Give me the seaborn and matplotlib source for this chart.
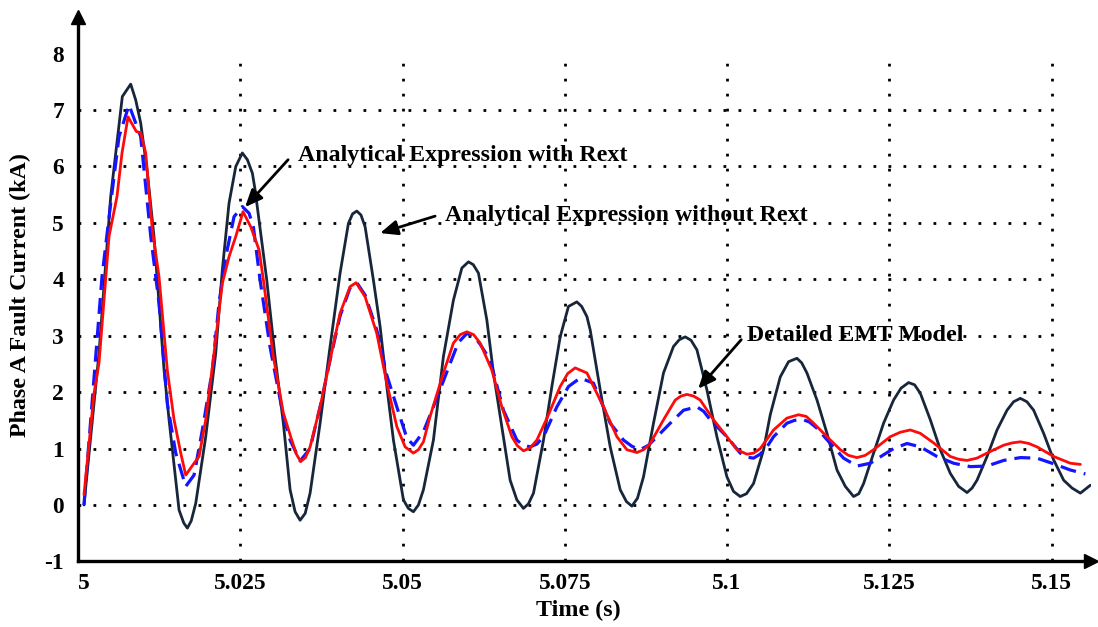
import matplotlib
matplotlib.use("Agg")
import matplotlib.pyplot as plt
import matplotlib.transforms as mtransforms
import seaborn as sns
import pandas as pd

sns.set_style("white")
plt.rcParams['font.family'] = ['Liberation Serif', 'DejaVu Serif']
plt.rcParams['font.weight'] = 'bold'
plt.rcParams['text.color'] = 'black'
plt.rcParams['axes.labelcolor'] = 'black'
plt.rcParams['xtick.color'] = 'black'
plt.rcParams['ytick.color'] = 'black'

# ---------------- data ----------------
t_no_rext = [5.00092, 5.00324, 5.00504, 5.00683, 5.00812, 5.00889, 5.00966, 5.01064, 5.01171, 5.01248,
             5.01326, 5.01403, 5.01506, 5.01557, 5.01630, 5.01685, 5.01745, 5.01814, 5.01968, 5.02122,
             5.02224, 5.02327, 5.02431, 5.02532, 5.02610, 5.02687, 5.02728, 5.02908, 5.03036, 5.03164,
             5.03268, 5.03345, 5.03422, 5.03500, 5.03576, 5.03730, 5.03884, 5.04038, 5.04166, 5.04230,
             5.04296, 5.04360, 5.04424, 5.04551, 5.04655, 5.04758, 5.04860, 5.05014, 5.05090, 5.05168,
             5.05245, 5.05322, 5.05476, 5.05630, 5.05784, 5.05914, 5.06016, 5.06090, 5.06170, 5.06299,
             5.06401, 5.06530, 5.06658, 5.06762, 5.06863, 5.06940, 5.07018, 5.07172, 5.07301, 5.07429,
             5.07557, 5.07686, 5.07760, 5.07841, 5.07892, 5.08046, 5.08200, 5.08354, 5.08450, 5.08534,
             5.08620, 5.08713, 5.08867, 5.09021, 5.09175, 5.09265, 5.09356, 5.09445, 5.09536, 5.09690,
             5.09844, 5.09998, 5.10100, 5.10203, 5.10300, 5.10408, 5.10563, 5.10666, 5.10820, 5.10948,
             5.11077, 5.11150, 5.11231, 5.11386, 5.11540, 5.11694, 5.11822, 5.11950, 5.12030, 5.12104,
             5.12258, 5.12412, 5.12566, 5.12680, 5.12797, 5.12890, 5.12978, 5.13132, 5.13286, 5.13440,
             5.13568, 5.13698, 5.13775, 5.13852, 5.14006, 5.14160, 5.14314, 5.14415, 5.14519, 5.14620,
             5.14724, 5.14878, 5.15032, 5.15186, 5.15316, 5.15444, 5.15598]
i_no_rext = [0.0, 2.7, 5.47, 7.24, 7.46, 7.18, 6.77, 5.94, 4.76, 3.58,
             2.39, 1.51, 0.44, -0.09, -0.32, -0.41, -0.28, 0.03, 1.21, 2.69,
             4.17, 5.35, 6.0, 6.24, 6.12, 5.88, 5.59, 3.99, 2.63, 1.45,
             0.27, -0.12, -0.27, -0.15, 0.21, 1.45, 2.81, 4.11, 4.99, 5.16,
             5.21, 5.14, 4.93, 3.99, 3.16, 2.1, 1.15, 0.09, -0.06, -0.12,
             0.0, 0.27, 1.15, 2.63, 3.63, 4.2, 4.31, 4.26, 4.11, 3.28,
             2.34, 1.39, 0.44, 0.09, -0.06, 0.02, 0.21, 1.15, 2.1, 2.98,
             3.52, 3.6, 3.52, 3.34, 3.1, 2.04, 1.03, 0.27, 0.06, -0.02,
             0.12, 0.5, 1.45, 2.34, 2.81, 2.93, 2.98, 2.92, 2.75, 2.04,
             1.21, 0.5, 0.24, 0.15, 0.2, 0.38, 0.98, 1.6, 2.27, 2.54,
             2.6, 2.52, 2.34, 1.86, 1.27, 0.62, 0.33, 0.15, 0.2, 0.38,
             0.92, 1.45, 1.86, 2.07, 2.17, 2.13, 1.98, 1.51, 0.98, 0.56,
             0.33, 0.22, 0.3, 0.44, 0.86, 1.33, 1.68, 1.83, 1.89, 1.83,
             1.68, 1.27, 0.8, 0.44, 0.3, 0.21, 0.35]

t_rext = [5.00092, 5.00216, 5.00370, 5.00504, 5.00632, 5.00786, 5.00966, 5.01121, 5.01248, 5.01376,
          5.01506, 5.01660, 5.01788, 5.01916, 5.02070, 5.02173, 5.02277, 5.02404, 5.02532, 5.02636,
          5.02702, 5.02805, 5.02959, 5.03160, 5.03268, 5.03422, 5.03576, 5.03730, 5.03884, 5.04038,
          5.04192, 5.04296, 5.04424, 5.04604, 5.04758, 5.04912, 5.05066, 5.05168, 5.05322, 5.05476,
          5.05734, 5.05860, 5.05991, 5.06095, 5.06196, 5.06350, 5.06555, 5.06762, 5.06865, 5.06967,
          5.07070, 5.07172, 5.07378, 5.07557, 5.07737, 5.07942, 5.08200, 5.08405, 5.08535, 5.08662,
          5.08790, 5.08920, 5.09125, 5.09330, 5.09536, 5.09640, 5.09741, 5.09998, 5.10203, 5.10305,
          5.10408, 5.10510, 5.10615, 5.10717, 5.10923, 5.11040, 5.11154, 5.11270, 5.11386, 5.11591,
          5.11796, 5.12002, 5.12207, 5.12412, 5.12566, 5.12773, 5.12978, 5.13235, 5.13491, 5.13748,
          5.14006, 5.14262, 5.14519, 5.14776, 5.15032, 5.15290, 5.15521]
i_rext = [0.0, 1.8, 4.05, 5.35, 6.53, 7.09, 6.53, 4.76, 3.58, 1.8,
          0.92, 0.33, 0.53, 1.33, 2.39, 3.58, 4.4, 5.11, 5.29, 5.17,
          4.93, 3.99, 2.8, 1.6, 1.15, 0.78, 1.0, 1.74, 2.57, 3.35,
          3.85, 3.94, 3.72, 3.1, 2.3, 1.74, 1.19, 1.06, 1.3, 1.74,
          2.51, 2.88, 3.04, 3.0, 2.85, 2.57, 1.68, 1.15, 1.06, 1.03,
          1.08, 1.21, 1.74, 2.1, 2.25, 2.16, 1.45, 1.15, 1.04, 0.98,
          1.06, 1.21, 1.45, 1.68, 1.74, 1.66, 1.51, 1.21, 0.92, 0.85,
          0.83, 0.9, 1.03, 1.21, 1.45, 1.5, 1.52, 1.47, 1.36, 1.09,
          0.83, 0.69, 0.74, 0.89, 1.0, 1.09, 1.03, 0.86, 0.74, 0.68,
          0.69, 0.79, 0.84, 0.83, 0.73, 0.62, 0.55]

t_emt = [5.00092, 5.00247, 5.00324, 5.00478, 5.00601, 5.00678, 5.00771, 5.00899, 5.00966, 5.01043,
         5.01145, 5.01248, 5.01376, 5.01480, 5.01583, 5.01660, 5.01788, 5.01865, 5.01968, 5.02096,
         5.02224, 5.02327, 5.02431, 5.02543, 5.02662, 5.02790, 5.02856, 5.03010, 5.03164, 5.03294,
         5.03365, 5.03432, 5.03505, 5.03576, 5.03730, 5.03884, 5.04038, 5.04192, 5.04285, 5.04424,
         5.04604, 5.04758, 5.04912, 5.05040, 5.05168, 5.05245, 5.05322, 5.05425, 5.05630, 5.05784,
         5.05890, 5.05991, 5.06095, 5.06196, 5.06376, 5.06530, 5.06685, 5.06770, 5.06863, 5.06965,
         5.07070, 5.07249, 5.07429, 5.07545, 5.07660, 5.07841, 5.08097, 5.08303, 5.08457, 5.08611,
         5.08715, 5.08816, 5.09021, 5.09202, 5.09290, 5.09382, 5.09485, 5.09587, 5.09792, 5.09998,
         5.10153, 5.10307, 5.10410, 5.10512, 5.10717, 5.10923, 5.11102, 5.11220, 5.11333, 5.11540,
         5.11745, 5.11870, 5.12002, 5.12130, 5.12258, 5.12515, 5.12670, 5.12824, 5.12978, 5.13183,
         5.13440, 5.13570, 5.13698, 5.13850, 5.14006, 5.14262, 5.14390, 5.14519, 5.14650, 5.14776,
         5.15032, 5.15290, 5.15444]
i_emt = [0.18, 1.98, 2.52, 4.76, 5.47, 6.24, 6.88, 6.62, 6.6, 6.24,
         4.88, 4.05, 2.39, 1.51, 0.92, 0.53, 0.74, 0.86, 1.51, 2.69,
         3.93, 4.4, 4.76, 5.2, 4.93, 4.52, 3.99, 2.63, 1.63, 1.15,
         0.9, 0.77, 0.84, 1.03, 1.74, 2.57, 3.4, 3.87, 3.94, 3.69,
         3.04, 2.16, 1.39, 1.03, 0.92, 0.98, 1.12, 1.57, 2.34, 2.87,
         3.02, 3.07, 3.02, 2.87, 2.39, 1.74, 1.21, 1.05, 0.96, 1.01,
         1.15, 1.6, 2.1, 2.33, 2.43, 2.34, 1.74, 1.21, 0.98, 0.93,
         0.98, 1.09, 1.51, 1.86, 1.93, 1.96, 1.93, 1.86, 1.51, 1.21,
         0.98, 0.9, 0.92, 1.0, 1.33, 1.54, 1.6, 1.57, 1.45, 1.21,
         0.98, 0.88, 0.84, 0.88, 0.98, 1.21, 1.29, 1.33, 1.27, 1.1,
         0.86, 0.81, 0.79, 0.83, 0.92, 1.06, 1.1, 1.12, 1.09, 1.03,
         0.86, 0.74, 0.72]

x_ticks = [5.0, 5.025, 5.05, 5.075, 5.1, 5.125, 5.15]
x_tick_labels = ["5", "5.025", "5.05", "5.075", "5.1", "5.125", "5.15"]
y_ticks = [-1, 0, 1, 2, 3, 4, 5, 6, 7, 8]
y_tick_labels = ["-1", "0", "1", "2", "3", "4", "5", "6", "7", "8"]
grid_y = [0, 1, 2, 3, 4, 5, 6, 7]
grid_x = [5.025, 5.05, 5.075, 5.1, 5.125, 5.15]

label_with = "Analytical Expression with Rext"
label_without = "Analytical Expression without Rext"
label_emt = "Detailed EMT Model"

# ---------------- figure ----------------
W, H = 1098, 627
fig = plt.figure(figsize=(W / 100, H / 100), dpi=100)
ax = fig.add_axes([78 / W, (H - 561.4) / H, (1090.5 - 78) / W, 544.4 / H])
ax.set_xlim(5.0, 5.156)
ax.set_ylim(-1, 8.65)

dot = (0, (1, 4.4))
ax.hlines(grid_y, 5.0, 5.15, colors='black', linestyles=[dot], linewidth=2, zorder=1)
ax.vlines(grid_x, -1, 7.85, colors='black', linestyles=[dot], linewidth=2, zorder=1)

df_no = pd.DataFrame({"t": t_no_rext, "i": i_no_rext})
df_r = pd.DataFrame({"t": t_rext, "i": i_rext})
df_e = pd.DataFrame({"t": t_emt, "i": i_emt})

sns.lineplot(data=df_no, x="t", y="i", ax=ax, color="#17263a", linewidth=2.0,
             estimator=None, sort=False, zorder=3, solid_joinstyle="round")
sns.lineplot(data=df_r, x="t", y="i", ax=ax, color="#1414ff", linewidth=2.3,
             estimator=None, sort=False, linestyle=(0, (5, 2.5)), zorder=4,
             dash_joinstyle="round")
sns.lineplot(data=df_e, x="t", y="i", ax=ax, color="#ff0a0a", linewidth=2.0,
             estimator=None, sort=False, zorder=5, solid_joinstyle="round")

# axes styling
for s in ["top", "right"]:
    ax.spines[s].set_visible(False)
for s in ["left", "bottom"]:
    ax.spines[s].set_linewidth(2.4)
    ax.spines[s].set_color("black")
ax.plot(1, 0, marker=">", color="black", ms=10, transform=ax.transAxes, clip_on=False)
ax.plot(0, 1, marker="^", color="black", ms=10, transform=ax.transAxes, clip_on=False)

ax.set_xticks(x_ticks)
ax.set_xticklabels(x_tick_labels)
ax.set_yticks(y_ticks)
ax.set_yticklabels(y_tick_labels)
ax.tick_params(axis="both", direction="in", length=8, width=2, labelsize=16.8, colors="black")
ax.tick_params(axis="x", pad=8)
ax.tick_params(axis="y", pad=10)
for lab in ax.get_xticklabels() + ax.get_yticklabels():
    lab.set_fontweight("bold")
# the "5" label sits slightly right of the axis corner in the reference
first = ax.get_xticklabels()[0]
first.set_transform(first.get_transform() + mtransforms.ScaledTranslation(6 / 100, 0, fig.dpi_scale_trans))

ax.set_xlabel("Time (s)", fontsize=17.3, fontweight="bold")
ax.set_ylabel("Phase A Fault Current (kA)", fontsize=17.3, fontweight="bold")
ax.xaxis.set_label_coords((578 - 78) / 1012.5, (561.4 - 600) / 544.4)
ax.yaxis.set_label_coords((31 - 78) / 1012.5, (561.4 - 295) / 544.4)

arrow_kw = dict(arrowstyle="-|>,head_length=0.7,head_width=0.3", lw=2, color="black",
                shrinkA=0, shrinkB=0, mutation_scale=15)
ax.annotate("", xy=(5.02574, 5.28), xytext=(5.03237, 6.12), arrowprops=arrow_kw, zorder=6)
ax.annotate("", xy=(5.04655, 4.82), xytext=(5.05502, 5.12), arrowprops=arrow_kw, zorder=6)
ax.annotate("", xy=(5.09556, 2.06), xytext=(5.10219, 2.93), arrowprops=arrow_kw, zorder=6)

ax.text(5.03391, 6.19, label_with, ha="left", va="center", fontsize=17.2, fontweight="bold", zorder=6)
ax.text(5.05657, 5.14, label_without, ha="left", va="center", fontsize=17.2, fontweight="bold", zorder=6)
ax.text(5.10307, 3.01, label_emt, ha="left", va="center", fontsize=17.2, fontweight="bold", zorder=6)

ax.set_facecolor("white")
fig.patch.set_facecolor("white")
fig.savefig("out.png", dpi=100)
